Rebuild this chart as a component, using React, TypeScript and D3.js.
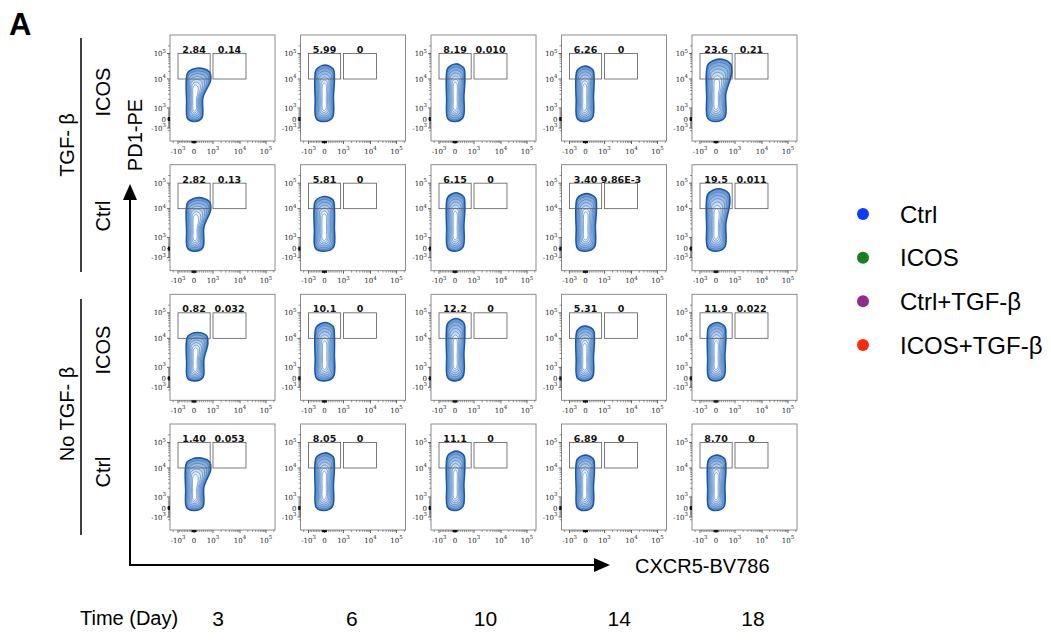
import React from "react";
import * as d3 from "d3";

const days = [3, 6, 10, 14, 18];
const groupLabels = ["TGF- β", "No TGF- β"];
const rowLabels = ["ICOS", "Ctrl", "ICOS", "Ctrl"];

// gate frequencies (PD1+CXCR5- / PD1+CXCR5+), rows x days
const gateLeftPct = [
  ["2.84", "5.99", "8.19", "6.26", "23.6"],
  ["2.82", "5.81", "6.15", "3.40", "19.5"],
  ["0.82", "10.1", "12.2", "5.31", "11.9"],
  ["1.40", "8.05", "11.1", "6.89", "8.70"],
];
const gateRightPct = [
  ["0.14", "0", "0.010", "0", "0.21"],
  ["0.13", "0", "0", "9.86E-3", "0.011"],
  ["0.032", "0", "0", "0", "0.022"],
  ["0.053", "0", "0", "0", "0"],
];

// extent of the contour blob in each panel (PD1 top, CXCR5 left / right)
const blobTop = [
  [27000, 35000, 39000, 32000, 60000],
  [27000, 30000, 42000, 39000, 60000],
  [17000, 42000, 60000, 30000, 42000],
  [25000, 39000, 46000, 32000, 32000],
];
const blobLeft = [
  [-480, -600, -540, -600, -600],
  [-480, -650, -540, -600, -600],
  [-480, -600, -540, -600, -540],
  [-540, -600, -540, -600, -540],
];
const blobRightTop = [
  [880, 520, 520, 450, 830],
  [880, 520, 520, 580, 730],
  [730, 520, 520, 470, 520],
  [880, 520, 520, 470, 520],
];
const blobRightBottom = [
  [470, 470, 470, 420, 520],
  [520, 520, 470, 520, 520],
  [520, 520, 470, 420, 470],
  [520, 470, 470, 420, 470],
];
const blobBottom = -280;

const gate1X = [-1000, 850];
const gate2X = [1000, 17000];
const gateY = [10000, 100000];

const axisTicks = [-1000, 0, 1000, 10000, 100000];
const axisTickLabels = [["-10", "3"], ["0", ""], ["10", "3"], ["10", "4"], ["10", "5"]];
const minorTicks = [
  -2000,
  ...d3.range(-900, 1000, 100).filter((v) => v !== 0),
  ...d3.range(2, 10).map((k) => k * 1000),
  ...d3.range(2, 10).map((k) => k * 10000),
  200000,
];

const legendLabels = ["Ctrl", "ICOS", "Ctrl+TGF-β", "ICOS+TGF-β"];
const legendColors = ["#0a3cff", "#16821c", "#922b8f", "#ff2b06"];

const panelW = 105;
const panelH = 106;
const colX = d3.scaleLinear().domain([0, 4]).range([170, 692]);
const rowY = d3.scaleLinear().domain([0, 3]).range([35, 424]);

// biexponential-like display transform
const tf = (v: number) =>
  Math.abs(v) <= 1000 ? v / 1000 : Math.sign(v) * (1 + Math.log10(Math.abs(v) / 1000));
const xs = d3.scaleLinear().domain([-1, 0, 1, 2, 3]).range([8, 24, 43, 70, 96]);
const ys = d3.scaleLinear().domain([-1, 0, 1, 2, 3]).range([93, 84, 73, 44, 18.5]);
const px = (v: number) => xs(tf(v));
const py = (v: number) => ys(tf(v));

const closed = d3.line().curve(d3.curveCatmullRomClosed.alpha(0.5));
const levelColor = d3.interpolateRgb("#6b9ad4", "#ffffff");

function TickLabel({ x, y, base, sup, anchor }: any) {
  return (
    <text x={x} y={y} textAnchor={anchor} fontFamily="DejaVu Serif" fontSize={7} fill="#222">
      {base}
      {sup && (
        <tspan fontSize={5.4} dy={-3.5}>
          {sup}
        </tspan>
      )}
    </text>
  );
}

function Panel({ r, c }: { r: number; c: number }) {
  const x0 = colX(c);
  const y0 = rowY(r);
  const xl = px(blobLeft[r][c]);
  const xrt = px(blobRightTop[r][c]);
  const xrb = px(blobRightBottom[r][c]);
  const yt = py(blobTop[r][c]);
  const yb = py(blobBottom);
  const h = yb - yt;
  const wt = xrt - xl;
  const outline: [number, number][] = [
    [xl + 1.5, yb - 0.05 * h],
    [xl + 0.3, yb - 0.4 * h],
    [xl, yb - 0.78 * h],
    [xl + 0.07 * wt, yt + 0.08 * h],
    [xl + 0.5 * wt, yt],
    [xrt - 0.06 * wt, yt + 0.07 * h],
    [xrt, yt + 0.22 * h],
    [xrb, yb - 0.45 * h],
    [xrb - 1, yb - 0.07 * h],
    [(xl + xrb) / 2, yb],
  ];
  const cx = (xl + xrb) / 2;
  const cy = yb - 0.38 * h;
  const levels = d3.range(7);

  return (
    <g transform={`translate(${x0},${y0})`}>
      <rect width={panelW} height={panelH} fill="#fff" stroke="#8c8c8c" strokeWidth={1} />

      {levels.map((i) => {
        const kx = 1 - 0.13 * i;
        const ky = 1 - 0.085 * i;
        const pts = outline.map(([x, y]) => [cx + (x - cx) * kx, cy + (y - cy) * ky] as [number, number]);
        return (
          <path
            key={i}
            d={closed(pts) || ""}
            fill={levelColor(i / 6)}
            stroke={i === 0 ? "#1a57a4" : "#3b76bd"}
            strokeWidth={i === 0 ? 1.6 : 0.6}
          />
        );
      })}

      {[gate1X, gate2X].map((g, i) => (
        <rect
          key={i}
          x={px(g[0])}
          y={py(gateY[1])}
          width={px(g[1]) - px(g[0])}
          height={py(gateY[0]) - py(gateY[1])}
          fill="none"
          stroke="#5a5a5a"
          strokeWidth={0.8}
        />
      ))}
      <text x={(px(gate1X[0]) + px(gate1X[1])) / 2} y={py(gateY[1]) - 0.5} textAnchor="middle"
        fontFamily="DejaVu Sans" fontWeight="bold" fontSize={9.5} fill="#111">
        {gateLeftPct[r][c]}
      </text>
      <text x={(px(gate2X[0]) + px(gate2X[1])) / 2} y={py(gateY[1]) - 0.5} textAnchor="middle"
        fontFamily="DejaVu Sans" fontWeight="bold" fontSize={9.5} fill="#111">
        {gateRightPct[r][c]}
      </text>

      {/* x axis */}
      {minorTicks.map((v) => (
        <line key={"mx" + v} x1={px(v)} x2={px(v)} y1={panelH} y2={panelH + 2} stroke="#333" strokeWidth={0.5} />
      ))}
      {axisTicks.map((v, i) => (
        <g key={"x" + v}>
          <line x1={px(v)} x2={px(v)} y1={panelH} y2={panelH + 3} stroke="#222" strokeWidth={0.7} />
          <TickLabel x={px(v)} y={panelH + 12.5} base={axisTickLabels[i][0]} sup={axisTickLabels[i][1]} anchor="middle" />
        </g>
      ))}
      <rect x={px(0) - 2.5} y={panelH} width={5} height={2.2} fill="#111" />

      {/* y axis */}
      {minorTicks.map((v) => (
        <line key={"my" + v} x1={-2} x2={0} y1={py(v)} y2={py(v)} stroke="#333" strokeWidth={0.5} />
      ))}
      {axisTicks.map((v, i) => (
        <g key={"y" + v}>
          <line x1={-3} x2={0} y1={py(v)} y2={py(v)} stroke="#222" strokeWidth={0.7} />
          <TickLabel x={-4} y={py(v) + 2.5} base={axisTickLabels[i][0]} sup={axisTickLabels[i][1]} anchor="end" />
        </g>
      ))}
      <rect x={-2.2} y={py(0) - 2} width={2.2} height={4} fill="#111" />
    </g>
  );
}

export default function App() {
  const rowLabelY = [92, 216, 350, 472];
  const groupY = [145, 414];
  const dayX = d3.scalePoint<number>().domain(days).range([218, 753]);
  const legendY = d3.scalePoint<string>().domain(legendLabels).range([214, 345]);
  const sans = "Liberation Sans, Arial, sans-serif";

  return (
    <svg width={1052} height={632} style={{ position: "absolute", left: 0, top: 0, background: "#fff" }}>
      <text x={9} y={35} fontFamily={sans} fontWeight="bold" fontSize={31}>A</text>

      {/* group brackets */}
      <line x1={81} x2={81} y1={38} y2={272} stroke="#000" strokeWidth={1.5} />
      <line x1={81} x2={81} y1={299} y2={535} stroke="#000" strokeWidth={1.5} />
      {groupLabels.map((g, i) => (
        <text key={g} transform={`translate(74,${groupY[i]}) rotate(-90)`} textAnchor="middle" fontFamily={sans} fontSize={20}>
          {g}
        </text>
      ))}
      {rowLabels.map((l, i) => (
        <text key={i} transform={`translate(110,${rowLabelY[i]}) rotate(-90)`} textAnchor="middle" fontFamily={sans} fontSize={20}>
          {l}
        </text>
      ))}

      {/* axis arrows */}
      <text transform="translate(142,135) rotate(-90)" textAnchor="middle" fontFamily={sans} fontSize={20}>PD1-PE</text>
      <line x1={130} x2={130} y1={566} y2={198} stroke="#000" strokeWidth={2} />
      <polygon points="130,184 123,200 137,200" fill="#000" />
      <line x1={129} x2={596} y1={565} y2={565} stroke="#000" strokeWidth={2} />
      <polygon points="610,565 594,558 594,572" fill="#000" />
      <text x={635} y={573} fontFamily={sans} fontSize={20}>CXCR5-BV786</text>

      {rowLabels.map((_, r) => days.map((_, c) => <Panel key={r + "-" + c} r={r} c={c} />))}

      <text x={80} y={625} fontFamily={sans} fontSize={20}>Time (Day)</text>
      {days.map((d) => (
        <text key={d} x={dayX(d)} y={626} textAnchor="middle" fontFamily={sans} fontSize={21}>{d}</text>
      ))}

      {legendLabels.map((l, i) => (
        <g key={l}>
          <circle cx={863} cy={legendY(l)} r={6} fill={legendColors[i]} />
          <text x={900} y={(legendY(l) as number) + 8.5} fontFamily={sans} fontSize={24}>{l}</text>
        </g>
      ))}
    </svg>
  );
}
